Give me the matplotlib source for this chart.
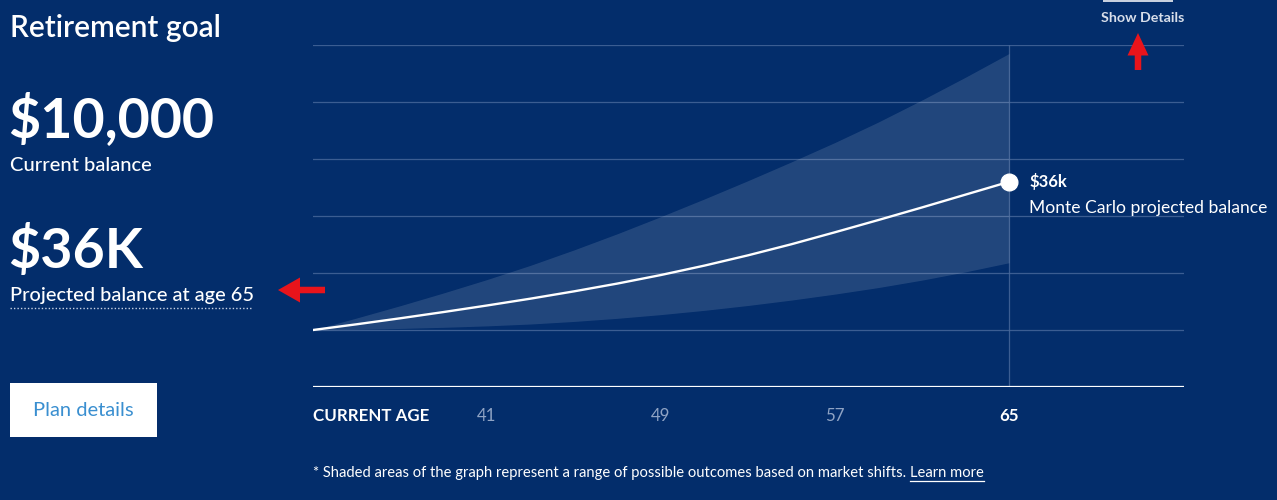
import matplotlib
matplotlib.use("Agg")
import matplotlib.pyplot as plt
from matplotlib.patches import Rectangle, FancyArrow

# ---- data (values in $ thousands) ----
ages = [33, 35, 37, 39, 41, 43, 45, 47, 49, 51, 53, 55, 57, 59, 61, 63, 65]
projected = [10.0, 11.0, 12.05, 13.15, 14.3, 15.5, 16.78, 18.15, 19.65,
             21.3, 23.1, 25.05, 27.15, 29.3, 31.5, 33.75, 36.0]
upper_band = [10.0, 12.1, 14.25, 16.5, 18.85, 21.35, 24.05, 26.9, 29.9,
              33.0, 36.2, 39.5, 42.9, 46.5, 50.35, 54.35, 58.5]
lower_band = [10.0, 10.12, 10.27, 10.47, 10.72, 11.05, 11.5, 12.05, 12.7,
              13.45, 14.3, 15.25, 16.3, 17.45, 18.75, 20.2, 21.8]
tick_ages = [33, 41, 49, 57, 65]
tick_labels = ["CURRENT AGE", "41", "49", "57", "65"]
grid_values = [10, 20, 30, 40, 50, 60]
current_balance = "$10,000"
projected_label = "$36K"
end_label = "$36k"

BG = "#032d6b"
W, H = 1277, 500
FONT = "Lato"

fig = plt.figure(figsize=(W / 100, H / 100), dpi=100, facecolor=BG)

def fx(px):
    return px / W

def fy(py):
    return 1 - py / H

ax = fig.add_axes([fx(313), fy(387), fx(1184) - fx(313), fy(45) - fy(387)])
ax.set_facecolor(BG)
ax.set_xlim(33, 33 + 871 / 21.75)
ax.set_ylim(0, 60)

for v in grid_values:
    ax.axhline(v, color="#4a6a9c", lw=0.9, alpha=0.8, zorder=1)
ax.axhline(0, color="white", lw=1.6, zorder=3)
ax.plot([65, 65], [0, 60], color="#4a6a9c", lw=0.9, alpha=0.8, zorder=1)

ax.fill_between(ages, lower_band, upper_band, color="white", alpha=0.12, lw=0, zorder=2)
ax.plot(ages, projected, color="white", lw=1.7, zorder=4, solid_capstyle="round",
        solid_joinstyle="round")
ax.plot([ages[-1]], [projected[-1]], "o", color="white", ms=12, zorder=5)

for s in ax.spines.values():
    s.set_visible(False)
ax.set_yticks([])
ax.set_xticks(tick_ages)
ax.set_xticklabels(tick_labels)
ax.tick_params(axis="x", length=0, pad=15)
lab_colors = ["white", "#8fa3c4", "#8fa3c4", "#8fa3c4", "white"]
lab_weights = ["bold", "normal", "normal", "normal", "bold"]
for lbl, c, w in zip(ax.get_xticklabels(), lab_colors, lab_weights):
    lbl.set_color(c)
    lbl.set_fontweight(w)
    lbl.set_fontfamily(FONT)
    lbl.set_fontsize(12.2)
ax.get_xticklabels()[0].set_horizontalalignment("left")

# annotation at end point
ax.annotate(end_label, (ages[-1], projected[-1]), xytext=(14.5, 0), textcoords="offset points",
            color="white", fontsize=12, fontweight="bold", family=FONT, va="center", ha="left")
ax.annotate("Monte Carlo projected balance", (ages[-1], projected[-1]), xytext=(14.5, -19),
            textcoords="offset points", color="white", fontsize=12.6, family=FONT,
            va="center", ha="left")

# left panel texts
fig.text(fx(10), fy(28), "Retirement goal", color="white", fontsize=21.5, family=FONT,
         fontweight="semibold", va="center", ha="left")
fig.text(fx(8), fy(137), current_balance, color="white", fontsize=40, fontweight="bold",
         family=FONT, va="baseline", ha="left")
fig.text(fx(10), fy(165), "Current balance", color="white", fontsize=14.5, family=FONT,
         fontweight="medium", va="center", ha="left")
fig.text(fx(8), fy(268), projected_label, color="white", fontsize=40, fontweight="bold",
         family=FONT, va="baseline", ha="left")
fig.text(fx(10), fy(296), "Projected balance at age 65", color="white", fontsize=14.4,
         family=FONT, fontweight="medium", va="center", ha="left")
fig.add_artist(plt.Line2D([fx(10), fx(252)], [fy(308), fy(308)], color="#c8d2e4", lw=1,
                          linestyle=(0, (1, 1.5))))

# Plan details button
fig.add_artist(Rectangle((fx(10), fy(437)), fx(157) - fx(10), fy(383) - fy(437),
                         transform=fig.transFigure, facecolor="white", edgecolor="none"))
fig.text(fx(83), fy(410), "Plan details", color="#3a8fd0", fontsize=14.5, family=FONT,
         va="center", ha="center")

# Show details
fig.text(fx(1143), fy(18), "Show Details", color="#d8deea", fontsize=10.3, fontweight="bold",
         family=FONT, va="center", ha="center")
fig.add_artist(Rectangle((fx(1103), fy(2)), fx(1173) - fx(1103), fy(0) - fy(2),
                         transform=fig.transFigure, facecolor="#c8d0de", edgecolor="none"))

# footnote
fn = fig.text(fx(313), fy(473),
              "* Shaded areas of the graph represent a range of possible outcomes based on market shifts. ",
              color="white", fontsize=10.6, family=FONT, va="center", ha="left")
fig.canvas.draw()
bb = fn.get_window_extent()
lm = fig.text(bb.x1 / W, fy(473), "Learn more", color="white", fontsize=10.6, family=FONT,
              va="center", ha="left")
bb2 = lm.get_window_extent()
fig.add_artist(plt.Line2D([bb2.x0 / W, bb2.x1 / W], [fy(481), fy(481)], color="white", lw=0.9))

# red arrows
fig.add_artist(FancyArrow(fx(325), fy(290), fx(278) - fx(325), 0, width=0.013,
                          head_width=0.05, head_length=fx(22), length_includes_head=True,
                          transform=fig.transFigure, color="#e8141b", lw=0))
fig.add_artist(FancyArrow(fx(1138), fy(70), 0, fy(33) - fy(70), width=fx(6.5),
                          head_width=fx(21), head_length=0.045, length_includes_head=True,
                          transform=fig.transFigure, color="#e8141b", lw=0))

fig.savefig("out.png", dpi=100, facecolor=BG)
